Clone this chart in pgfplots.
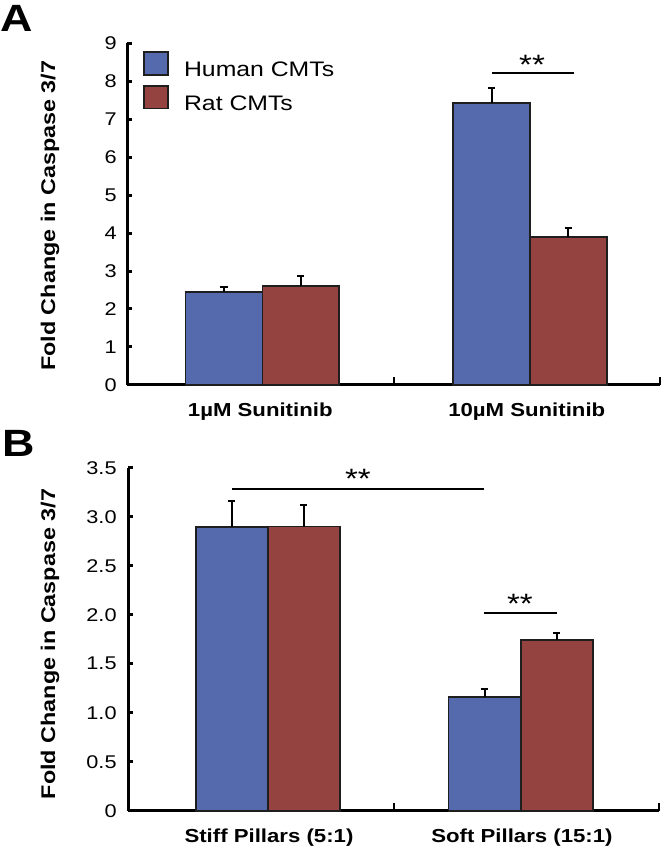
\documentclass[border=0pt]{standalone}
\usepackage{fontspec}
\setmainfont{Liberation Sans}
\newfontfamily\wfont{Liberation Sans}[FakeStretch=1.18]
\usepackage{pgfplots}
\pgfplotsset{compat=1.18}
\definecolor{hBlue}{RGB}{84,106,172}
\definecolor{rRed}{RGB}{148,67,65}
\definecolor{edge}{RGB}{30,30,30}
\newcommand{\tickfont}{\wfont\fontsize{9.2}{11}\selectfont}
\newcommand{\catfont}{\wfont\fontsize{9.4}{11}\selectfont\bfseries}
\newcommand{\labfont}{\wfont\fontsize{9.9}{11}\selectfont\bfseries}
\newcommand{\starfont}{\wfont\fontsize{14}{16}\selectfont}
\tikzset{sig/.style={line width=1pt,black}}

\pgfplotsset{
  panel/.style={
    scale only axis,
    anchor=south west,
    xmin=0,xmax=2,ymin=0,
    axis x line=bottom, axis y line=left,
    axis line style={line width=1.5pt,-,black},
    ybar,
    /pgf/number format/assume math mode=true,
    tick align=inside,
    major tick length=2.5pt,
    minor tick length=4pt,
    major y tick style={line width=1.5pt,black},
    major x tick style={draw=none},
    minor x tick style={line width=1pt,black},
    minor xtick={1,2},
    xtick={0.5,1.5},
    y tick label style={font=\tickfont,inner sep=0pt,xshift=-5pt},
    x tick label style={font=\catfont,inner sep=0pt,yshift=-8.8pt},
    ylabel={Fold Change in Caspase 3/7},
    ylabel style={font=\labfont,anchor=center},
    clip=false,
  },
  bars/.style={
    bar shift=0pt, draw=edge, line width=0.85pt,
    error bars/y dir=plus, error bars/y explicit,
    error bars/error bar style={line width=1pt,black},
    error bars/error mark options={rotate=90,line width=1pt,black,mark size=1.8pt},
  },
}

\begin{document}
\begin{tikzpicture}
\path[use as bounding box] (0,0) rectangle (332pt,425.5pt);

% panel A
\begin{axis}[panel,
  at={(63.5pt,233pt)},
  width=266.5pt,height=171pt,
  ymax=9, ytick={0,1,...,9},
  bar width=0.288,
  xticklabels={1µM Sunitinib,10µM Sunitinib},
  ylabel style={at={(axis description cs:-0.1445,0.495)}},
  legend style={at={(rel axis cs:0,1)},anchor=north west,xshift=8pt,yshift=-4pt,
    draw=none,fill=none,inner sep=0pt,row sep=2.6pt,
    font=\wfont\fontsize{10.5}{12}\selectfont,nodes={inner sep=0pt},
    /tikz/every odd column/.append style={column sep=7.5pt}},
  legend cell align=left,
  legend image code/.code={\draw[#1,line width=0.85pt,draw=edge] (0pt,-1.9pt) rectangle (12pt,9.4pt);},
]
\addplot[bars,fill=hBlue] coordinates {(0.364,2.455) +- (0,0.115) (1.368,7.43) +- (0,0.38)};
\addplot[bars,fill=rRed] coordinates {(0.652,2.61) +- (0,0.26) (1.656,3.89) +- (0,0.23)};
\legend{Human CMTs,Rat CMTs}
\draw[sig] (axis cs:1.368,8.2) -- (axis cs:1.677,8.2);
\node[font=\starfont,anchor=base,inner sep=0pt,yshift=-8pt] at (axis cs:1.52,8.6) {**};
\end{axis}

% panel B
\begin{axis}[panel,
  at={(64pt,20.15pt)},
  width=265.5pt,height=171.5pt,
  ymax=3.5, ytick={0,0.5,1,1.5,2,2.5,3,3.5},
  yticklabels={0,0.5,1.0,1.5,2.0,2.5,3.0,3.5},
  y tick label style={xshift=-0.5pt},
  bar width=0.271,
  xtick={0.531,1.484},
  xticklabels={Stiff Pillars (5:1),Soft Pillars (15:1)},
  ylabel style={at={(axis description cs:-0.147,0.486)}},
]
\addplot[bars,fill=hBlue] coordinates {(0.391,2.895) +- (0,0.265) (1.343,1.157) +- (0,0.082)};
\addplot[bars,fill=rRed] coordinates {(0.662,2.90) +- (0,0.22) (1.615,1.745) +- (0,0.071)};
\draw[sig] (axis cs:0.393,3.283) -- (axis cs:1.341,3.283);
\node[font=\starfont,anchor=base,inner sep=0pt,yshift=-8pt] at (axis cs:0.866,3.453) {**};
\draw[sig] (axis cs:1.342,2.017) -- (axis cs:1.615,2.017);
\node[font=\starfont,anchor=base,inner sep=0pt,yshift=-8pt] at (axis cs:1.476,2.178) {**};
\end{axis}

\node[font=\wfont\fontsize{19}{21}\selectfont\bfseries,anchor=base west,inner sep=0pt] at (0pt,409.5pt) {A};
\node[font=\wfont\fontsize{19}{21}\selectfont\bfseries,anchor=base west,inner sep=0pt] at (1pt,197.15pt) {B};
\end{tikzpicture}
\end{document}
